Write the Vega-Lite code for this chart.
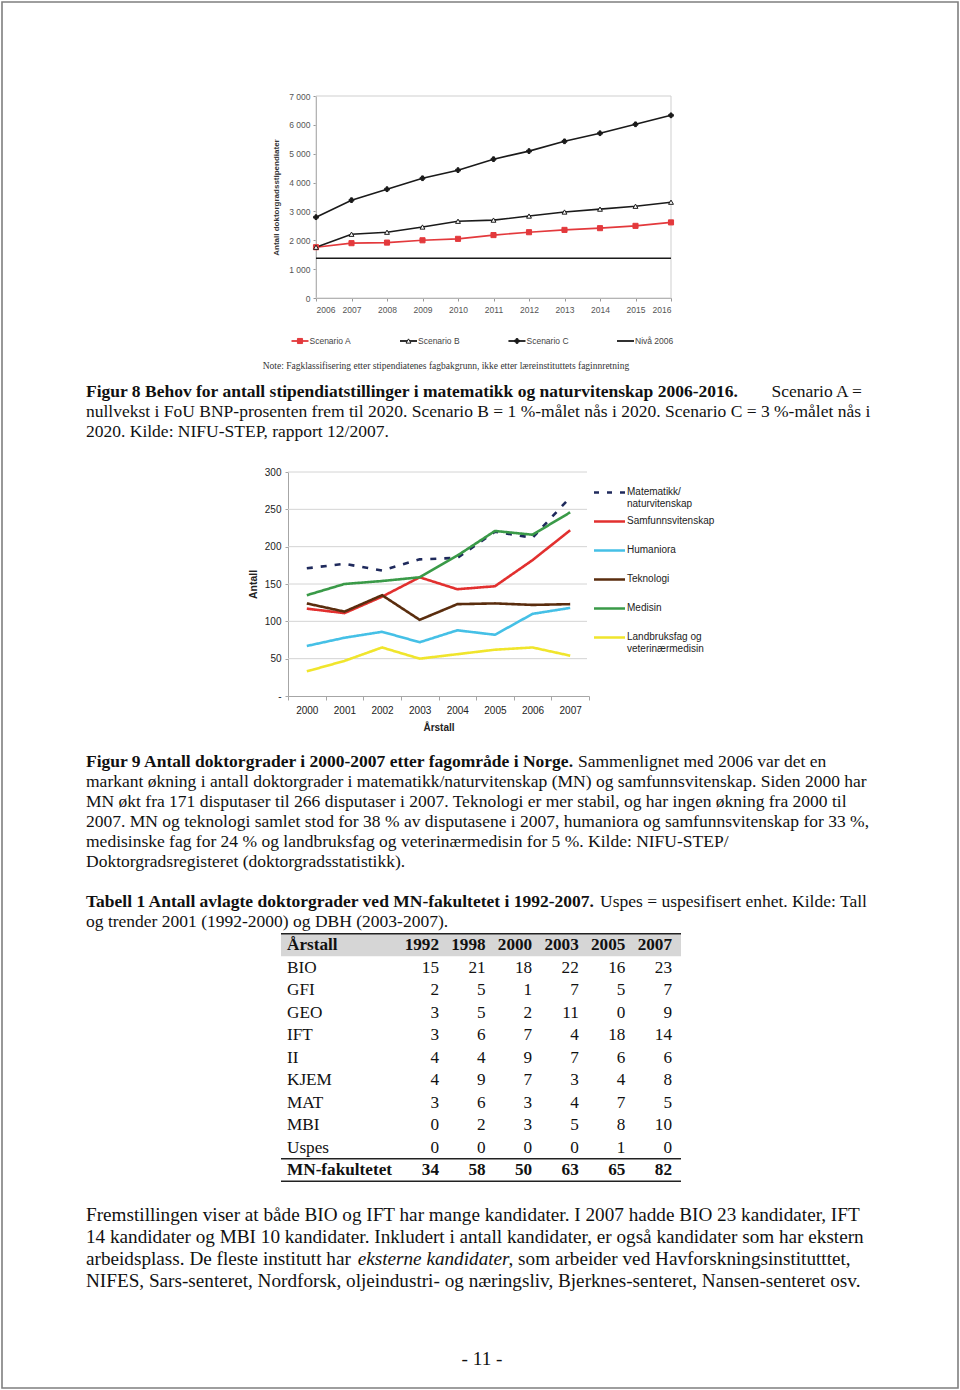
{
  "$schema": "https://vega.github.io/schema/vega-lite/v6.json",
  "width": 956,
  "height": 1386,
  "padding": 2,
  "autosize": "none",
  "background": "white",
  "config": {"view": {"stroke": "#7f7f7f", "strokeWidth": 1.6}, "font": "Liberation Sans"},
  "datasets": {
    "fig8": [
      {"year": 2006, "scenario": "Scenario A", "value": 1760}, {"year": 2007, "scenario": "Scenario A", "value": 1900}, {"year": 2008, "scenario": "Scenario A", "value": 1920}, {"year": 2009, "scenario": "Scenario A", "value": 2000}, {"year": 2010, "scenario": "Scenario A", "value": 2050}, {"year": 2011, "scenario": "Scenario A", "value": 2180}, {"year": 2012, "scenario": "Scenario A", "value": 2280}, {"year": 2013, "scenario": "Scenario A", "value": 2360}, {"year": 2014, "scenario": "Scenario A", "value": 2420}, {"year": 2015, "scenario": "Scenario A", "value": 2500}, {"year": 2016, "scenario": "Scenario A", "value": 2620},
      {"year": 2006, "scenario": "Scenario B", "value": 1760}, {"year": 2007, "scenario": "Scenario B", "value": 2210}, {"year": 2008, "scenario": "Scenario B", "value": 2280}, {"year": 2009, "scenario": "Scenario B", "value": 2460}, {"year": 2010, "scenario": "Scenario B", "value": 2660}, {"year": 2011, "scenario": "Scenario B", "value": 2700}, {"year": 2012, "scenario": "Scenario B", "value": 2840}, {"year": 2013, "scenario": "Scenario B", "value": 2980}, {"year": 2014, "scenario": "Scenario B", "value": 3080}, {"year": 2015, "scenario": "Scenario B", "value": 3180}, {"year": 2016, "scenario": "Scenario B", "value": 3320},
      {"year": 2006, "scenario": "Scenario C", "value": 2800}, {"year": 2007, "scenario": "Scenario C", "value": 3390}, {"year": 2008, "scenario": "Scenario C", "value": 3770}, {"year": 2009, "scenario": "Scenario C", "value": 4150}, {"year": 2010, "scenario": "Scenario C", "value": 4430}, {"year": 2011, "scenario": "Scenario C", "value": 4810}, {"year": 2012, "scenario": "Scenario C", "value": 5090}, {"year": 2013, "scenario": "Scenario C", "value": 5430}, {"year": 2014, "scenario": "Scenario C", "value": 5710}, {"year": 2015, "scenario": "Scenario C", "value": 6020}, {"year": 2016, "scenario": "Scenario C", "value": 6330},
      {"year": 2006, "scenario": "Nivå 2006", "value": 1380}, {"year": 2016, "scenario": "Nivå 2006", "value": 1380}
    ],
    "fig8legend": [
      {"scenario": "Scenario A", "i": 0}, {"scenario": "Scenario B", "i": 1}, {"scenario": "Scenario C", "i": 2}, {"scenario": "Nivå 2006", "i": 3}
    ],
    "fig9": [
      {"year": "2000", "area": "Matematikk/naturvitenskap", "value": 171}, {"year": "2001", "area": "Matematikk/naturvitenskap", "value": 177}, {"year": "2002", "area": "Matematikk/naturvitenskap", "value": 168}, {"year": "2003", "area": "Matematikk/naturvitenskap", "value": 183}, {"year": "2004", "area": "Matematikk/naturvitenskap", "value": 185}, {"year": "2005", "area": "Matematikk/naturvitenskap", "value": 220}, {"year": "2006", "area": "Matematikk/naturvitenskap", "value": 212}, {"year": "2007", "area": "Matematikk/naturvitenskap", "value": 266},
      {"year": "2000", "area": "Samfunnsvitenskap", "value": 117}, {"year": "2001", "area": "Samfunnsvitenskap", "value": 111}, {"year": "2002", "area": "Samfunnsvitenskap", "value": 133}, {"year": "2003", "area": "Samfunnsvitenskap", "value": 159}, {"year": "2004", "area": "Samfunnsvitenskap", "value": 143}, {"year": "2005", "area": "Samfunnsvitenskap", "value": 147}, {"year": "2006", "area": "Samfunnsvitenskap", "value": 182}, {"year": "2007", "area": "Samfunnsvitenskap", "value": 222},
      {"year": "2000", "area": "Humaniora", "value": 67}, {"year": "2001", "area": "Humaniora", "value": 78}, {"year": "2002", "area": "Humaniora", "value": 86}, {"year": "2003", "area": "Humaniora", "value": 72}, {"year": "2004", "area": "Humaniora", "value": 88}, {"year": "2005", "area": "Humaniora", "value": 82}, {"year": "2006", "area": "Humaniora", "value": 110}, {"year": "2007", "area": "Humaniora", "value": 118},
      {"year": "2000", "area": "Teknologi", "value": 124}, {"year": "2001", "area": "Teknologi", "value": 113}, {"year": "2002", "area": "Teknologi", "value": 135}, {"year": "2003", "area": "Teknologi", "value": 102}, {"year": "2004", "area": "Teknologi", "value": 123}, {"year": "2005", "area": "Teknologi", "value": 124}, {"year": "2006", "area": "Teknologi", "value": 122}, {"year": "2007", "area": "Teknologi", "value": 123},
      {"year": "2000", "area": "Medisin", "value": 135}, {"year": "2001", "area": "Medisin", "value": 150}, {"year": "2002", "area": "Medisin", "value": 154}, {"year": "2003", "area": "Medisin", "value": 159}, {"year": "2004", "area": "Medisin", "value": 188}, {"year": "2005", "area": "Medisin", "value": 221}, {"year": "2006", "area": "Medisin", "value": 216}, {"year": "2007", "area": "Medisin", "value": 246},
      {"year": "2000", "area": "Landbruksfag og veterinærmedisin", "value": 33}, {"year": "2001", "area": "Landbruksfag og veterinærmedisin", "value": 47}, {"year": "2002", "area": "Landbruksfag og veterinærmedisin", "value": 65}, {"year": "2003", "area": "Landbruksfag og veterinærmedisin", "value": 50}, {"year": "2004", "area": "Landbruksfag og veterinærmedisin", "value": 56}, {"year": "2005", "area": "Landbruksfag og veterinærmedisin", "value": 62}, {"year": "2006", "area": "Landbruksfag og veterinærmedisin", "value": 65}, {"year": "2007", "area": "Landbruksfag og veterinærmedisin", "value": 54}
    ],
    "fig9legend": [
      {"area": "Matematikk/naturvitenskap", "rank": 0, "label": "Matematikk/\nnaturvitenskap"},
      {"area": "Samfunnsvitenskap", "rank": 1, "label": "Samfunnsvitenskap"},
      {"area": "Humaniora", "rank": 2, "label": "Humaniora"},
      {"area": "Teknologi", "rank": 3, "label": "Teknologi"},
      {"area": "Medisin", "rank": 4, "label": "Medisin"},
      {"area": "Landbruksfag og veterinærmedisin", "rank": 5, "label": "Landbruksfag og\nveterinærmedisin"}
    ],
    "fig9grid": [{"v": 50}, {"v": 100}, {"v": 150}, {"v": 200}, {"v": 250}, {"v": 300}],
    "tableRows": [
      {"ri": 0, "ci": 0, "row": "Årstall"}, {"ri": 1, "ci": 0, "row": "BIO"}, {"ri": 2, "ci": 0, "row": "GFI"}, {"ri": 3, "ci": 0, "row": "GEO"}, {"ri": 4, "ci": 0, "row": "IFT"}, {"ri": 5, "ci": 0, "row": "II"}, {"ri": 6, "ci": 0, "row": "KJEM"}, {"ri": 7, "ci": 0, "row": "MAT"}, {"ri": 8, "ci": 0, "row": "MBI"}, {"ri": 9, "ci": 0, "row": "Uspes"}, {"ri": 10, "ci": 0, "row": "MN-fakultetet"}
    ],
    "tableCells": [
      {"ri": 0, "ci": 1, "val": "1992"}, {"ri": 0, "ci": 2, "val": "1998"}, {"ri": 0, "ci": 3, "val": "2000"}, {"ri": 0, "ci": 4, "val": "2003"}, {"ri": 0, "ci": 5, "val": "2005"}, {"ri": 0, "ci": 6, "val": "2007"},
      {"ri": 1, "ci": 1, "val": "15"}, {"ri": 1, "ci": 2, "val": "21"}, {"ri": 1, "ci": 3, "val": "18"}, {"ri": 1, "ci": 4, "val": "22"}, {"ri": 1, "ci": 5, "val": "16"}, {"ri": 1, "ci": 6, "val": "23"},
      {"ri": 2, "ci": 1, "val": "2"}, {"ri": 2, "ci": 2, "val": "5"}, {"ri": 2, "ci": 3, "val": "1"}, {"ri": 2, "ci": 4, "val": "7"}, {"ri": 2, "ci": 5, "val": "5"}, {"ri": 2, "ci": 6, "val": "7"},
      {"ri": 3, "ci": 1, "val": "3"}, {"ri": 3, "ci": 2, "val": "5"}, {"ri": 3, "ci": 3, "val": "2"}, {"ri": 3, "ci": 4, "val": "11"}, {"ri": 3, "ci": 5, "val": "0"}, {"ri": 3, "ci": 6, "val": "9"},
      {"ri": 4, "ci": 1, "val": "3"}, {"ri": 4, "ci": 2, "val": "6"}, {"ri": 4, "ci": 3, "val": "7"}, {"ri": 4, "ci": 4, "val": "4"}, {"ri": 4, "ci": 5, "val": "18"}, {"ri": 4, "ci": 6, "val": "14"},
      {"ri": 5, "ci": 1, "val": "4"}, {"ri": 5, "ci": 2, "val": "4"}, {"ri": 5, "ci": 3, "val": "9"}, {"ri": 5, "ci": 4, "val": "7"}, {"ri": 5, "ci": 5, "val": "6"}, {"ri": 5, "ci": 6, "val": "6"},
      {"ri": 6, "ci": 1, "val": "4"}, {"ri": 6, "ci": 2, "val": "9"}, {"ri": 6, "ci": 3, "val": "7"}, {"ri": 6, "ci": 4, "val": "3"}, {"ri": 6, "ci": 5, "val": "4"}, {"ri": 6, "ci": 6, "val": "8"},
      {"ri": 7, "ci": 1, "val": "3"}, {"ri": 7, "ci": 2, "val": "6"}, {"ri": 7, "ci": 3, "val": "3"}, {"ri": 7, "ci": 4, "val": "4"}, {"ri": 7, "ci": 5, "val": "7"}, {"ri": 7, "ci": 6, "val": "5"},
      {"ri": 8, "ci": 1, "val": "0"}, {"ri": 8, "ci": 2, "val": "2"}, {"ri": 8, "ci": 3, "val": "3"}, {"ri": 8, "ci": 4, "val": "5"}, {"ri": 8, "ci": 5, "val": "8"}, {"ri": 8, "ci": 6, "val": "10"},
      {"ri": 9, "ci": 1, "val": "0"}, {"ri": 9, "ci": 2, "val": "0"}, {"ri": 9, "ci": 3, "val": "0"}, {"ri": 9, "ci": 4, "val": "0"}, {"ri": 9, "ci": 5, "val": "1"}, {"ri": 9, "ci": 6, "val": "0"},
      {"ri": 10, "ci": 1, "val": "34"}, {"ri": 10, "ci": 2, "val": "58"}, {"ri": 10, "ci": 3, "val": "50"}, {"ri": 10, "ci": 4, "val": "63"}, {"ri": 10, "ci": 5, "val": "65"}, {"ri": 10, "ci": 6, "val": "82"}
    ],
    "tableLines": [{"ri": -0.5}, {"ri": 9.5}, {"ri": 10.5}],
    "captionBold": [
      {"line": 1, "seg": 0, "text": "Figur 8 Behov for antall stipendiatstillinger i matematikk og naturvitenskap 2006-2016."},
      {"line": 4, "seg": 0, "text": "Figur 9 Antall doktorgrader i 2000-2007 etter fagområde i Norge."},
      {"line": 10, "seg": 0, "text": "Tabell 1 Antall avlagte doktorgrader ved MN-fakultetet i 1992-2007."}
    ],
    "captionText": [
      {"line": 2, "seg": 0, "text": "nullvekst i FoU BNP-prosenten frem til 2020. Scenario B = 1 %-målet nås i 2020. Scenario C = 3 %-målet nås i"},
      {"line": 3, "seg": 0, "text": "2020. Kilde: NIFU-STEP, rapport 12/2007."},
      {"line": 4, "seg": 2, "text": "Sammenlignet med 2006 var det en"},
      {"line": 5, "seg": 0, "text": "markant økning i antall doktorgrader i matematikk/naturvitenskap (MN) og samfunnsvitenskap. Siden 2000 har"},
      {"line": 6, "seg": 0, "text": "MN økt fra 171 disputaser til 266 disputaser i 2007. Teknologi er mer stabil, og har ingen økning fra 2000 til"},
      {"line": 7, "seg": 0, "text": "2007. MN og teknologi samlet stod for 38 % av disputasene i 2007, humaniora og samfunnsvitenskap for 33 %,"},
      {"line": 8, "seg": 0, "text": "medisinske fag for 24 % og landbruksfag og veterinærmedisin for 5 %. Kilde: NIFU-STEP/"},
      {"line": 9, "seg": 0, "text": "Doktorgradsregisteret (doktorgradsstatistikk)."},
      {"line": 10, "seg": 3, "text": "Uspes = uspesifisert enhet. Kilde: Tall"},
      {"line": 11, "seg": 0, "text": "og trender 2001 (1992-2000) og DBH (2003-2007)."}
    ],
    "captionTextRight": [
      {"line": 1, "seg": 4, "text": "Scenario A ="}
    ],
    "bodyText": [
      {"line": 12, "seg": 0, "text": "Fremstillingen viser at både BIO og IFT har mange kandidater. I 2007 hadde BIO 23 kandidater, IFT"},
      {"line": 13, "seg": 0, "text": "14 kandidater og MBI 10 kandidater. Inkludert i antall kandidater, er også kandidater som har ekstern"},
      {"line": 14, "seg": 0, "text": "arbeidsplass. De fleste institutt har"},
      {"line": 14, "seg": 7, "text": ", som arbeider ved Havforskningsinstitutttet,"},
      {"line": 15, "seg": 0, "text": "NIFES, Sars-senteret, Nordforsk, oljeindustri- og næringsliv, Bjerknes-senteret, Nansen-senteret osv."}
    ],
    "bodyItalic": [
      {"line": 14, "seg": 1, "text": "eksterne kandidater"}
    ],
    "pageNumber": [{"line": 16, "seg": 5, "text": "- 11 -"}],
    "note": [{"line": 0, "seg": 6, "text": "Note: Fagklassifisering etter stipendiatenes fagbakgrunn, ikke etter læreinstituttets faginnretning"}]
  },
  "layer": [
    {
      "layer": [
        {
          "data": {"values": [{}]},
          "mark": {"type": "rect", "fill": null, "stroke": "#cfcfcf", "strokeWidth": 1},
          "encoding": {
            "x": {"datum": 2006, "type": "quantitative", "scale": {"domain": [2006, 2016], "range": [314, 669], "nice": false, "zero": false}, "axis": {"orient": "bottom", "offset": -1090, "values": [2006, 2007, 2008, 2009, 2010, 2011, 2012, 2013, 2014, 2015, 2016], "format": "d", "labelFont": "Liberation Sans", "labelFontSize": 8.5, "labelColor": "#555", "tickSize": 3, "tickColor": "#999", "domainColor": "#999", "labelPadding": 4, "title": null, "grid": false}},
            "x2": {"datum": 2016},
            "y": {"datum": 0, "type": "quantitative", "scale": {"domain": [0, 7000], "range": [296, 94], "nice": false, "zero": false}, "axis": {"orient": "left", "offset": -314, "values": [0, 1000, 2000, 3000, 4000, 5000, 6000, 7000], "labelExpr": "replace(format(datum.value, ','), ',', ' ')", "labelFont": "Liberation Sans", "labelFontSize": 8.5, "labelColor": "#555", "tickSize": 3, "tickColor": "#999", "domainColor": "#999", "labelPadding": 3, "grid": false, "title": "Antall doktorgradsstipendiater", "titleFont": "Liberation Sans", "titleFontSize": 8, "titleFontWeight": "bold", "titleColor": "#333", "titlePadding": 8}},
            "y2": {"datum": 7000}
          }
        },
        {
          "data": {"name": "fig8"},
          "mark": {"type": "line", "strokeWidth": 1.6},
          "encoding": {
            "x": {"field": "year", "type": "quantitative"},
            "y": {"field": "value", "type": "quantitative"},
            "color": {"field": "scenario", "type": "nominal", "scale": {"domain": ["Scenario A", "Scenario B", "Scenario C", "Nivå 2006"], "range": ["#e3393c", "#1a1a1a", "#1a1a1a", "#1a1a1a"]}, "legend": null}
          }
        },
        {
          "data": {"name": "fig8"},
          "transform": [{"filter": "datum.scenario != 'Nivå 2006'"}],
          "mark": {"type": "point", "filled": false, "strokeWidth": 1, "opacity": 1},
          "encoding": {
            "x": {"field": "year", "type": "quantitative"},
            "y": {"field": "value", "type": "quantitative"},
            "shape": {"field": "scenario", "type": "nominal", "scale": {"domain": ["Scenario A", "Scenario B", "Scenario C"], "range": ["square", "triangle-up", "cross"]}, "legend": null},
            "fill": {"field": "scenario", "type": "nominal", "scale": {"domain": ["Scenario A", "Scenario B", "Scenario C"], "range": ["#e3393c", "#ffffff", "#1a1a1a"]}, "legend": null},
            "stroke": {"field": "scenario", "type": "nominal", "scale": {"domain": ["Scenario A", "Scenario B", "Scenario C"], "range": ["#e3393c", "#1a1a1a", "#1a1a1a"]}, "legend": null},
            "size": {"field": "scenario", "type": "nominal", "scale": {"domain": ["Scenario A", "Scenario B", "Scenario C"], "range": [26, 22, 14]}, "legend": null}
          }
        }
      ]
    },
    {
      "data": {"name": "fig8legend"},
      "encoding": {
        "x": {"field": "i", "type": "quantitative", "scale": {"domain": [0, 3], "range": [298, 623.5], "nice": false, "zero": false}, "axis": null},
        "y": {"datum": 0, "type": "quantitative", "scale": {"domain": [0, 1], "range": [339, 340], "nice": false, "zero": false}, "axis": null}
      },
      "layer": [
        {
          "mark": {"type": "point", "shape": "M-1,0L1,0", "size": 289, "filled": false, "strokeWidth": 1.8, "opacity": 1},
          "encoding": {"stroke": {"field": "scenario", "type": "nominal", "scale": {"domain": ["Scenario A", "Scenario B", "Scenario C", "Nivå 2006"], "range": ["#e3393c", "#1a1a1a", "#1a1a1a", "#1a1a1a"]}, "legend": null}}
        },
        {
          "transform": [{"filter": "datum.scenario != 'Nivå 2006'"}],
          "mark": {"type": "point", "filled": false, "strokeWidth": 1, "opacity": 1},
          "encoding": {
            "shape": {"field": "scenario", "type": "nominal", "scale": {"domain": ["Scenario A", "Scenario B", "Scenario C"], "range": ["square", "triangle-up", "cross"]}, "legend": null},
            "fill": {"field": "scenario", "type": "nominal", "scale": {"domain": ["Scenario A", "Scenario B", "Scenario C"], "range": ["#e3393c", "#ffffff", "#1a1a1a"]}, "legend": null},
            "stroke": {"field": "scenario", "type": "nominal", "scale": {"domain": ["Scenario A", "Scenario B", "Scenario C"], "range": ["#e3393c", "#1a1a1a", "#1a1a1a"]}, "legend": null},
            "size": {"field": "scenario", "type": "nominal", "scale": {"domain": ["Scenario A", "Scenario B", "Scenario C"], "range": [26, 22, 14]}, "legend": null}
          }
        },
        {
          "mark": {"type": "text", "align": "left", "baseline": "middle", "dx": 9.5, "font": "Liberation Sans", "fontSize": 8.5, "fill": "#444"},
          "encoding": {"text": {"field": "scenario"}}
        }
      ]
    },
    {
      "data": {"name": "fig9grid"},
      "mark": {"type": "rule", "stroke": "#d4d4d4", "strokeWidth": 1},
      "encoding": {
        "x": {"datum": 0, "type": "quantitative", "scale": {"domain": [0, 1], "range": [286, 585], "nice": false, "zero": false}, "axis": null},
        "x2": {"datum": 1},
        "y": {"field": "v", "type": "quantitative", "scale": {"domain": [0, 300], "range": [694, 470], "nice": false, "zero": false}, "axis": null}
      }
    },
    {
      "data": {"name": "fig9"},
      "mark": {"type": "line", "strokeWidth": 2.6},
      "encoding": {
        "x": {"field": "year", "type": "ordinal", "scale": {"type": "band", "domain": ["2000", "2001", "2002", "2003", "2004", "2005", "2006", "2007"], "range": [286, 587], "paddingInner": 0, "paddingOuter": 0}, "axis": {"orient": "bottom", "offset": -692, "tickBand": "extent", "labelAngle": 0, "labelFont": "Liberation Sans", "labelFontSize": 10, "labelColor": "#222", "tickSize": 4, "tickColor": "#a6a6a6", "domainColor": "#a6a6a6", "labelPadding": 5, "title": "Årstall", "titleFont": "Liberation Sans", "titleFontSize": 10, "titleFontWeight": "bold", "titleColor": "#222", "titlePadding": 7, "grid": false}},
        "y": {"field": "value", "type": "quantitative", "scale": {"domain": [0, 300], "range": [694, 470], "nice": false, "zero": false}, "axis": {"orient": "left", "offset": -286, "values": [0, 50, 100, 150, 200, 250, 300], "labelExpr": "datum.value == 0 ? '-' : datum.label", "labelFont": "Liberation Sans", "labelFontSize": 10, "labelColor": "#222", "tickSize": 3, "tickColor": "#a6a6a6", "domainColor": "#a6a6a6", "labelPadding": 4, "grid": false, "title": "Antall", "titleFont": "Liberation Sans", "titleFontSize": 10.5, "titleFontWeight": "bold", "titleColor": "#222", "titlePadding": 6}},
        "color": {"field": "area", "type": "nominal", "scale": {"domain": ["Matematikk/naturvitenskap", "Samfunnsvitenskap", "Humaniora", "Teknologi", "Medisin", "Landbruksfag og veterinærmedisin"], "range": ["#1f2a5c", "#e2302f", "#45c0e6", "#5a2d0e", "#3a9a48", "#f0e52c"]}, "legend": null},
        "strokeDash": {"field": "area", "type": "nominal", "scale": {"domain": ["Matematikk/naturvitenskap", "Samfunnsvitenskap", "Humaniora", "Teknologi", "Medisin", "Landbruksfag og veterinærmedisin"], "range": [[6, 8], [1, 0], [1, 0], [1, 0], [1, 0], [1, 0]]}, "legend": null}
      }
    },
    {
      "data": {"name": "fig9legend"},
      "encoding": {
        "y": {"field": "rank", "type": "quantitative", "scale": {"domain": [0, 5], "range": [490.5, 635.5], "nice": false, "zero": false}, "axis": null}
      },
      "layer": [
        {
          "mark": {"type": "rule", "strokeWidth": 2.6},
          "encoding": {
            "x": {"datum": 0, "type": "quantitative", "scale": {"domain": [0, 1], "range": [592, 623], "nice": false, "zero": false}, "axis": null},
            "x2": {"datum": 1},
            "color": {"field": "area", "type": "nominal", "scale": {"domain": ["Matematikk/naturvitenskap", "Samfunnsvitenskap", "Humaniora", "Teknologi", "Medisin", "Landbruksfag og veterinærmedisin"], "range": ["#1f2a5c", "#e2302f", "#45c0e6", "#5a2d0e", "#3a9a48", "#f0e52c"]}, "legend": null},
            "strokeDash": {"field": "area", "type": "nominal", "scale": {"domain": ["Matematikk/naturvitenskap", "Samfunnsvitenskap", "Humaniora", "Teknologi", "Medisin", "Landbruksfag og veterinærmedisin"], "range": [[5, 8], [1, 0], [1, 0], [1, 0], [1, 0], [1, 0]]}, "legend": null}
          }
        },
        {
          "mark": {"type": "text", "align": "left", "baseline": "top", "dx": 2, "dy": -6, "lineBreak": "\n", "lineHeight": 12, "font": "Liberation Sans", "fontSize": 10, "fill": "#222"},
          "encoding": {
            "x": {"datum": 1, "type": "quantitative"},
            "text": {"field": "label"}
          }
        }
      ]
    },
    {
      "data": {"values": [{}]},
      "layer": [
        {
          "mark": {"type": "rect", "fill": "#d6d6d6"},
          "encoding": {
            "x": {"datum": 0, "type": "quantitative", "scale": {"domain": [0, 1], "range": [279, 679], "nice": false, "zero": false}, "axis": null},
            "x2": {"datum": 1},
            "y": {"datum": -0.5, "type": "quantitative", "scale": {"domain": [0, 10], "range": [943, 1168], "nice": false, "zero": false}, "axis": null},
            "y2": {"datum": 0.5}
          }
        },
        {
          "data": {"name": "tableLines"},
          "mark": {"type": "rule", "stroke": "#222", "strokeWidth": 1.5},
          "encoding": {
            "x": {"datum": 0, "type": "quantitative"},
            "x2": {"datum": 1},
            "y": {"field": "ri", "type": "quantitative"}
          }
        }
      ]
    },
    {
      "encoding": {
        "x": {"field": "ci", "type": "quantitative", "scale": {"domain": [0, 1, 6], "range": [285, 437, 670], "nice": false, "zero": false}, "axis": null},
        "y": {"field": "ri", "type": "quantitative", "scale": {"domain": [0, 10], "range": [943, 1168], "nice": false, "zero": false}, "axis": null}
      },
      "layer": [
        {
          "data": {"name": "tableRows"},
          "transform": [{"filter": "datum.ri > 0 && datum.ri < 10"}],
          "mark": {"type": "text", "align": "left", "baseline": "middle", "font": "Liberation Serif", "fontSize": 17.2, "fill": "#111"},
          "encoding": {"text": {"field": "row"}}
        },
        {
          "data": {"name": "tableRows"},
          "transform": [{"filter": "datum.ri == 0 || datum.ri == 10"}],
          "mark": {"type": "text", "align": "left", "baseline": "middle", "font": "Liberation Serif", "fontSize": 17.2, "fontWeight": "bold", "fill": "#111"},
          "encoding": {"text": {"field": "row"}}
        },
        {
          "data": {"name": "tableCells"},
          "transform": [{"filter": "datum.ri > 0 && datum.ri < 10"}],
          "mark": {"type": "text", "align": "right", "baseline": "middle", "font": "Liberation Serif", "fontSize": 17.2, "fill": "#111"},
          "encoding": {"text": {"field": "val"}}
        },
        {
          "data": {"name": "tableCells"},
          "transform": [{"filter": "datum.ri == 0 || datum.ri == 10"}],
          "mark": {"type": "text", "align": "right", "baseline": "middle", "font": "Liberation Serif", "fontSize": 17.2, "fontWeight": "bold", "fill": "#111"},
          "encoding": {"text": {"field": "val"}}
        }
      ]
    },
    {
      "encoding": {
        "x": {"field": "seg", "type": "quantitative", "scale": {"domain": [0, 1, 2, 3, 4, 5, 6, 7], "range": [84, 355.7, 576, 598, 860, 480, 260.7, 506.5], "nice": false, "zero": false}, "axis": null},
        "y": {"field": "line", "type": "quantitative", "scale": {"domain": [0, 1, 2, 3, 4, 5, 6, 7, 8, 9, 10, 11, 12, 13, 14, 15, 16], "range": [364, 389.5, 409.5, 429.5, 760, 780, 800, 820, 840, 860, 900, 920, 1213, 1235, 1257, 1279, 1357], "nice": false, "zero": false}, "axis": null},
        "text": {"field": "text"}
      },
      "layer": [
        {"data": {"name": "note"}, "mark": {"type": "text", "align": "left", "baseline": "middle", "font": "Liberation Serif", "fontSize": 9.5, "fill": "#333"}},
        {"data": {"name": "captionBold"}, "mark": {"type": "text", "align": "left", "baseline": "middle", "font": "Liberation Serif", "fontSize": 17.5, "fontWeight": "bold", "fill": "#111"}},
        {"data": {"name": "captionText"}, "mark": {"type": "text", "align": "left", "baseline": "middle", "font": "Liberation Serif", "fontSize": 17.5, "fill": "#111"}},
        {"data": {"name": "captionTextRight"}, "mark": {"type": "text", "align": "right", "baseline": "middle", "font": "Liberation Serif", "fontSize": 17.5, "fill": "#111"}},
        {"data": {"name": "bodyText"}, "mark": {"type": "text", "align": "left", "baseline": "middle", "font": "Liberation Serif", "fontSize": 19.2, "fill": "#111"}},
        {"data": {"name": "bodyItalic"}, "mark": {"type": "text", "align": "left", "baseline": "middle", "font": "Liberation Serif", "fontSize": 19.2, "fontStyle": "italic", "fill": "#111"}},
        {"data": {"name": "pageNumber"}, "mark": {"type": "text", "align": "center", "baseline": "middle", "font": "Liberation Serif", "fontSize": 19.2, "fill": "#111"}}
      ]
    }
  ],
  "resolve": {
    "scale": {"x": "independent", "y": "independent", "color": "independent", "fill": "independent", "stroke": "independent", "shape": "independent", "size": "independent", "strokeDash": "independent"},
    "axis": {"x": "independent", "y": "independent"}
  }
}
